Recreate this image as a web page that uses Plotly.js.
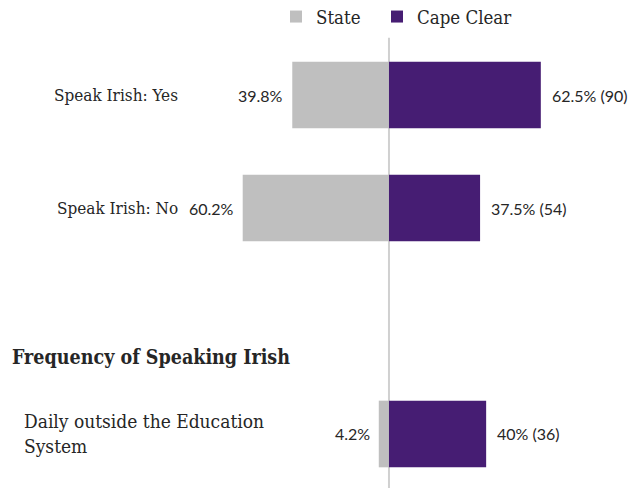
<!DOCTYPE html>
<html>
<head>
<meta charset="utf-8">
<script src="https://cdn.plot.ly/plotly-3.0.1.min.js"></script>
<style>html,body{margin:0;padding:0;background:#fff}#chart{width:638px;height:488px}</style>
</head>
<body>
<div id="chart"></div>
<script>
// Data
const categories = ["Speak Irish: Yes", "Speak Irish: No", "", "Daily outside the Education<br>System"];
const stateValues = [39.8, 60.2, null, 4.2];
const capeValues = [62.5, 37.5, null, 40];
const capeCounts = [90, 54, null, 36];
const sectionHeading = "Frequency of Speaking Irish";
const seriesNames = ["State", "Cape Clear"];

const GRAY = "#bfbfbf";
const PURPLE = "#461d73";
const TEXT = "#262626";
const SERIF = "'DejaVu Serif Condensed', 'DejaVu Serif', serif";
const SANS = "Lato, 'Open Sans', sans-serif";

const ypos = categories.map((c, i) => i);

const traces = [
  {
    type: "bar", orientation: "h", name: seriesNames[0], legend: "legend",
    y: ypos, x: stateValues.map(v => v == null ? null : -v),
    marker: {color: GRAY}, width: 0.59, hoverinfo: "skip"
  },
  {
    type: "bar", orientation: "h", name: seriesNames[1], legend: "legend2",
    y: ypos, x: capeValues,
    marker: {color: PURPLE}, width: 0.59, hoverinfo: "skip"
  }
];

const annotations = [];
categories.forEach((c, i) => {
  if (stateValues[i] != null) {
    annotations.push({x: -stateValues[i], y: i, xref: "x", yref: "y", text: stateValues[i] + "%",
      showarrow: false, xanchor: "right", xshift: -7, font: {family: SANS, size: 16, color: TEXT}});
  }
  if (capeValues[i] != null) {
    annotations.push({x: capeValues[i], y: i, xref: "x", yref: "y", text: capeValues[i] + "% (" + capeCounts[i] + ")",
      showarrow: false, xanchor: "left", xshift: 9, font: {family: SANS, size: 16, color: TEXT}});
  }
});
// category labels
[0, 1].forEach(i => {
  annotations.push({x: 180 / 638, xref: "paper", y: i, yref: "y", text: categories[i], showarrow: false,
    xanchor: "right", font: {family: SERIF, size: 17, color: TEXT}});
});
annotations.push({x: 22 / 638, xref: "paper", y: 3, yref: "y", text: categories[3], showarrow: false,
  xanchor: "left", align: "left", font: {family: SERIF, size: 19, color: TEXT}});
annotations.push({x: 10 / 638, xref: "paper", y: 2.32, yref: "y", text: "<b>" + sectionHeading + "</b>", showarrow: false,
  xanchor: "left", font: {family: SERIF, size: 19.5, color: TEXT}});

const legendBase = {orientation: "h", xanchor: "left", y: 1.0397, yref: "paper", yanchor: "middle",
  font: {family: SERIF, size: 18.5, color: TEXT}, itemclick: false, bgcolor: "rgba(0,0,0,0)"};

const layout = {
  width: 638, height: 488,
  margin: {l: 0, r: 0, t: 35, b: 0, autoexpand: false},
  paper_bgcolor: "#fff", plot_bgcolor: "#fff",
  barmode: "overlay",
  showlegend: true,
  legend: Object.assign({}, legendBase, {x: 276 / 638}),
  legend2: Object.assign({}, legendBase, {x: 377 / 638}),
  xaxis: {range: [-160.1, 102.5], showgrid: false, zeroline: false, showticklabels: false, fixedrange: true},
  yaxis: {range: [3.478, -0.531], showgrid: false, zeroline: false, showticklabels: false, fixedrange: true},
  shapes: [{type: "line", xref: "x", yref: "paper", x0: 0, x1: 0, y0: 0, y1: 0.994, layer: "below",
    line: {color: "#d0d0d0", width: 2}}],
  annotations: annotations
};

Plotly.newPlot("chart", traces, layout, {displayModeBar: false, staticPlot: true});
</script>
</body>
</html>
